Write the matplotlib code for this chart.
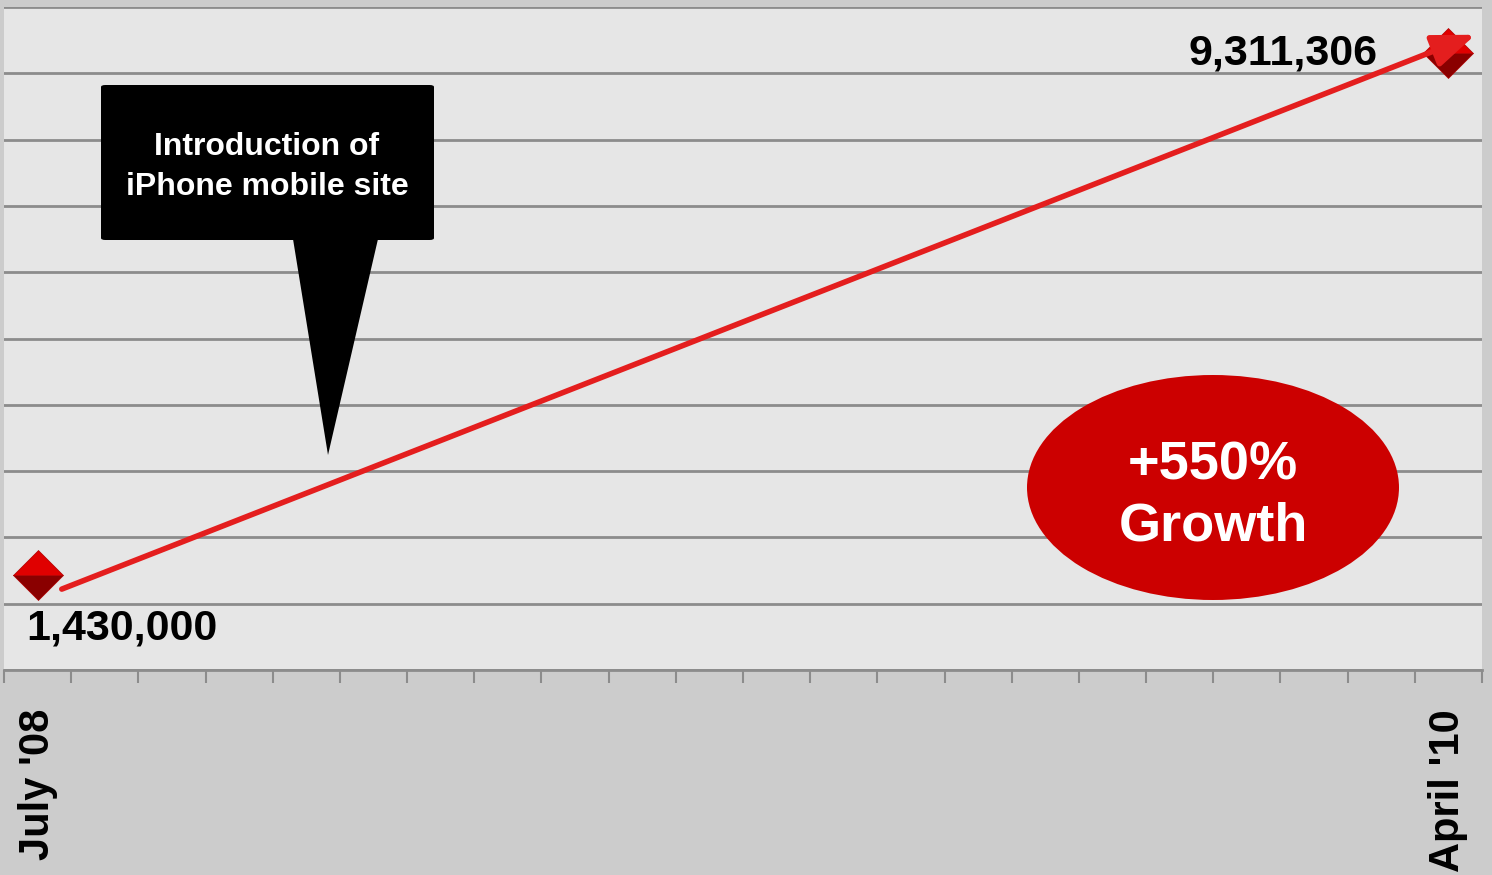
import matplotlib
matplotlib.use('Agg')
import matplotlib.pyplot as plt
from matplotlib.patches import Ellipse, FancyBboxPatch, Polygon
from matplotlib.ticker import FixedLocator, MultipleLocator

# Monthly categories from July '08 to April '10 (22 months)
months = ["July '08"] + [""] * 20 + ["April '10"]
visits = [1430000] + [None] * 20 + [9311306]
value_labels = ["1,430,000", "9,311,306"]
growth_text = "+550%\nGrowth"
callout_text = "Introduction of\niPhone mobile site"

plt.rcParams['font.family'] = ['Liberation Sans', 'DejaVu Sans']

fig = plt.figure(figsize=(14.92, 8.75), dpi=100, facecolor='#cccccc')
ax = fig.add_axes([4 / 1492, 1 - 670 / 875, 1478 / 1492, 663 / 875])
ax.set_facecolor('#e6e6e6')

n = len(months)
ax.set_xlim(-0.5, n - 0.5)
ax.set_ylim(0, 10000000)

# Horizontal gridlines every million
ax.yaxis.set_major_locator(MultipleLocator(1000000))
ax.yaxis.grid(True, color='#8c8c8c', linewidth=2)
ax.set_axisbelow(True)
ax.tick_params(axis='y', left=False, labelleft=False)

for side in ['top', 'right', 'left']:
    ax.spines[side].set_visible(False)
ax.spines['bottom'].set_color('#8c8c8c')
ax.spines['bottom'].set_linewidth(2)

# Category labels at centers, tick marks at boundaries
ax.xaxis.set_major_locator(FixedLocator(range(n)))
ax.set_xticklabels(months, rotation=90, fontsize=30, fontweight='bold',
                   va='top', ha='center')
ax.tick_params(axis='x', which='major', length=0, pad=28)
ax.xaxis.set_minor_locator(FixedLocator([i - 0.5 for i in range(n + 1)]))
ax.tick_params(axis='x', which='minor', length=9, width=1.5, color='#8c8c8c')

# Endpoints: pyramid-like diamond markers
idx = [i for i, v in enumerate(visits) if v is not None]
vals = [visits[i] for i in idx]
ax.plot(idx, vals, linestyle='none', marker='D', markersize=25,
        fillstyle='bottom', markerfacecolor='#8a0000',
        markerfacecoloralt='#e00000', markeredgecolor='#b00000',
        markeredgewidth=0.5, zorder=4)

# Growth arrow from first to last value
ax.annotate('', xy=(idx[-1] + 0.4, vals[-1] + 270000),
            xytext=(idx[0] + 0.36, vals[0] - 210000),
            arrowprops=dict(arrowstyle='-|>,head_length=2.6,head_width=1.0',
                            color='#e41e1e', linewidth=4, shrinkA=0, shrinkB=0),
            zorder=5)

# Value labels
ax.text(idx[0] + 1.25, vals[0] - 800000, value_labels[0], fontsize=31,
        fontweight='bold', ha='center', va='center')
ax.text(idx[-1] - 1.06, vals[-1] - 10000, value_labels[-1], fontsize=31,
        fontweight='bold', ha='right', va='center')

# Callout box with pointer
box = FancyBboxPatch((97 / 1478, 430 / 663), 333 / 1478, 155 / 663,
                     boxstyle='round,pad=0,rounding_size=0.003',
                     transform=ax.transAxes, facecolor='black',
                     edgecolor='none', zorder=6)
ax.add_patch(box)
tail = Polygon([(289 / 1478, 431 / 663), (374 / 1478, 431 / 663),
                (324 / 1478, 215 / 663)], closed=True,
               transform=ax.transAxes, facecolor='black', edgecolor='none',
               zorder=6)
ax.add_patch(tail)
ax.text(263 / 1478, 503 / 663, callout_text, transform=ax.transAxes,
        color='white', fontsize=23, fontweight='bold', ha='center',
        va='center', linespacing=1.4, zorder=7)

# Growth ellipse
ell = Ellipse((1209 / 1478, 182.5 / 663), 372 / 1478, 225 / 663,
              transform=ax.transAxes, facecolor='#cc0000', edgecolor='none',
              zorder=6)
ax.add_patch(ell)
ax.text(1209 / 1478, 174 / 663, growth_text, transform=ax.transAxes,
        color='white', fontsize=39, fontweight='bold', ha='center',
        va='center', linespacing=1.3, zorder=7)

plt.savefig('out.png', dpi=100, facecolor=fig.get_facecolor())
plt.close('all')
